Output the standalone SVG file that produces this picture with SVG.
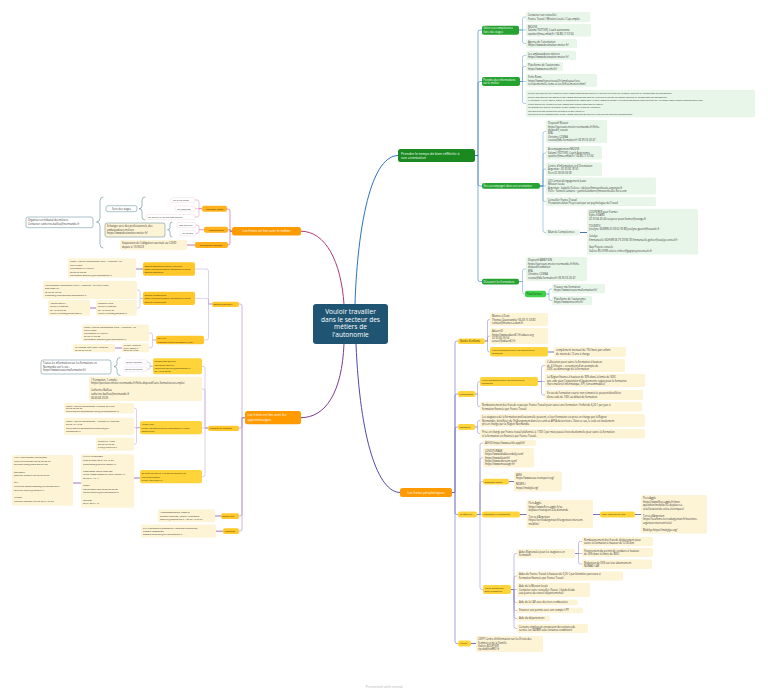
<svg xmlns="http://www.w3.org/2000/svg" width="768" height="693" viewBox="0 0 768 693">
<style>
text{font-family:"Open Sans","Liberation Sans",Arial,sans-serif}
.s{font-size:2.55px;fill:#333}
.s2{font-size:2.4px;fill:#333}
.nd{font-size:2.7px;fill:#3a2e05}
.nd2{font-size:2.4px;fill:#3a2e05}
.nw{font-size:2.7px;fill:#fff}
.mw{font-size:3.3px;fill:#fff}
.pg{fill:#e8f6e9}
.py{fill:#fdf4d6}
.yn{fill:#ffd43a}
.ya{fill:#ffc72a}
.on{fill:#ffb21e}
.om{fill:#ff9b00}
.gc{fill:#25a230}
.bx{fill:#fff;stroke:#437686;stroke-width:.45}
.bxy{fill:#fdf4d6;stroke:#437686;stroke-width:.45}
.lb{fill:#fff;stroke:#efc9da;stroke-width:.35}
.lp{fill:#fff;stroke:#dccbe8;stroke-width:.35}
.c{fill:none;stroke-linecap:round;stroke-linejoin:round}
</style>
<rect width="768" height="693" fill="#fff"/>
<g id="connectors" class="c">
  <path d="M355,304C357,240 368,155.5 398,155.5" stroke="#2a72bc" stroke-width="1"/>
  <path d="M344,304C341,262 326,231.2 301,231.2" stroke="#b23a72" stroke-width="1"/>
  <path d="M344,344C342,392 326,417.7 301,417.7" stroke="#7c3c96" stroke-width="1"/>
  <path d="M356,344C360,440 378,492.5 400,492.5" stroke="#4e4aa8" stroke-width="1"/>
  <g stroke="#2f74bd" stroke-width=".6">
    <path d="M475,155.5H478V32Q478,30 480,30H482"/>
    <path d="M475,155.5H478V83.5Q478,81.5 480,81.5H482"/>
    <path d="M475,155.5H478V184Q478,186 480,186H482"/>
    <path d="M475,155.5H478V279.5Q478,281.5 480,281.5H482"/>
  </g>
  <g stroke="#4f8fd0" stroke-width=".45">
    <path d="M519,30H522.5V19Q522.5,17 524.5,17H526"/>
    <path d="M519,30H526"/>
    <path d="M519,30H522.5V41.5Q522.5,43.5 524.5,43.5H526"/>
    <path d="M520,81.5H522.5V57.5Q522.5,55.5 524.5,55.5H526"/>
    <path d="M520,81.5H522.5V68.5Q522.5,66.5 524.5,66.5H526"/>
    <path d="M520,81.5H526"/>
    <path d="M520,81.5H522.5V101.5Q522.5,103.5 524.5,103.5H526"/>
    <path d="M540,186H543V133.5Q543,131.5 545,131.5H546"/>
    <path d="M540,186H543V155Q543,153 545,153H546"/>
    <path d="M540,186H543V171Q543,169 545,169H546"/>
    <path d="M540,186H546"/>
    <path d="M540,186H543V199.5Q543,201.5 545,201.5H546"/>
    <path d="M540,186H543V230.5Q543,232.5 545,232.5H546"/>
    <path d="M519,281.5H522.5V271Q522.5,269 524.5,269H526"/>
    <path d="M519,281.5H522.5V292Q522.5,294 524.5,294H525"/>
    <path d="M546,294H549V291Q549,289 551,289H552"/>
    <path d="M546,294H549V298.5Q549,300.5 551,300.5H552"/>
  </g>
  <path d="M580,232.5H587" stroke="#23509e" stroke-width=".8"/>
  <g stroke="#6b64c2" stroke-width=".6">
    <path d="M452,492.5H455V343Q455,341 457,341H458"/>
    <path d="M452,492.5H455V396Q455,394 457,394H458"/>
    <path d="M452,492.5H455V429Q455,427 457,427H458"/>
    <path d="M452,492.5H455V512.5Q455,514.5 457,514.5H458"/>
    <path d="M452,492.5H455V641.5Q455,643.5 457,643.5H458"/>
  </g>
  <g stroke="#7a74c8" stroke-width=".45">
    <path d="M485,341H487.5V321.5Q487.5,319.5 489.5,319.5H490"/>
    <path d="M485,341H487.5V338Q487.5,336 489.5,336H490"/>
    <path d="M485,341H487.5V350Q487.5,352 489.5,352H490"/>
    <path d="M475.5,394H477.5V383.5Q477.5,381.5 479.5,381.5H480"/>
    <path d="M475.5,394H477.5V404.7Q477.5,406.7 479.5,406.7H480"/>
    <path d="M538,381.5H541.5V367.5Q541.5,365.5 543.5,365.5H545"/>
    <path d="M538,381.5H545"/>
    <path d="M538,381.5H541.5V393Q541.5,395 543.5,395H545"/>
    <path d="M475,427H477.5V422.5Q477.5,420.5 479.5,420.5H480"/>
    <path d="M475,427H477.5V431.5Q477.5,433.5 479.5,433.5H480"/>
    <path d="M477,514.5H480V445Q480,443 482,443H483"/>
    <path d="M477,514.5H480V459.7Q480,457.7 482,457.7H483"/>
    <path d="M477,514.5H480V483.5Q480,481.5 482,481.5H483"/>
    <path d="M477,514.5H482"/>
    <path d="M477,514.5H480V587.5Q480,589.5 482,589.5H483"/>
    <path d="M511,589.5H514V555.5Q514,553.5 516,553.5H517"/>
    <path d="M511,589.5H514V578Q514,576 516,576H517"/>
    <path d="M511,589.5H517"/>
    <path d="M511,589.5H514V600.5Q514,602.5 516,602.5H517"/>
    <path d="M511,589.5H514V608.5Q514,610.5 516,610.5H517"/>
    <path d="M511,589.5H514V616.5Q514,618.5 516,618.5H517"/>
    <path d="M511,589.5H514V626.5Q514,628.5 516,628.5H517"/>
    <path d="M575,553.5H578.5V543.5Q578.5,541.5 580.5,541.5H582"/>
    <path d="M575,553.5H582"/>
    <path d="M575,553.5H578.5V562Q578.5,564 580.5,564H582"/>
  </g>
  <g stroke="#3f3a9a" stroke-width=".7">
    <path d="M548,352H554"/>
    <path d="M509,481.5H514"/>
    <path d="M520,514.5H526.5"/>
    <path d="M593,514.5H600"/>
    <path d="M635,514.5H641"/>
    <path d="M471,643.5H476"/>
  </g>
  <g stroke="#c4508e" stroke-width=".6">
    <path d="M232,231.2H230V211Q230,209 228,209H227"/>
    <path d="M232,231.2H230V229.7H228"/>
    <path d="M232,231.2H230V243Q230,245 228,245"/>
  </g>
  <g stroke="#d57aac" stroke-width=".45">
    <path d="M202,208.7H199V202Q199,200 197,200H195"/>
    <path d="M202,208.7H195"/>
    <path d="M202,208.7H199V215Q199,217 197,217H195"/>
    <path d="M204,229.7H199V227Q199,225 197,225H196"/>
    <path d="M204,229.7H199V231.3Q199,233.3 197,233.3H196"/>
  </g>
  <path d="M195,245H187" stroke="#b03a72" stroke-width=".7"/>
  <g stroke="#3f7282" stroke-width=".5">
    <path d="M145,197Q142,197 142,200V205.7Q142,208.7 139,208.7Q142,208.7 142,211.7V217Q142,220 145,220"/>
    <path d="M172,222Q170,222 170,224.5V227.2Q170,229.7 167.5,229.7Q170,229.7 170,232.2V234.5Q170,237 172,237"/>
    <path d="M103,197Q100,197 100,201V218Q100,222 96.5,222Q100,222 100,226V244Q100,248 103,248"/>
    <path d="M120,357.5Q117,357.5 117,360.5V363.5Q117,366.5 114,366.5Q117,366.5 117,369.5V372.5Q117,375.5 120,375.5"/>
  </g>
  <g stroke="#a783c8" stroke-width=".6">
    <path d="M245,417.7H242V306Q242,304 240,304H239"/>
    <path d="M245,417.7H242V426Q242,428 240,428H239"/>
    <path d="M245,417.7H242V514Q242,516 240,516H239"/>
    <path d="M245,417.7H242V529Q242,531 240,531H239"/>
  </g>
  <g stroke="#b594d2" stroke-width=".45">
    <path d="M212,304H208.5V271Q208.5,269 206.5,269H195"/>
    <path d="M212,304H208.5V300.4Q208.5,298.4 206.5,298.4H195"/>
    <path d="M212,304H208.5V338Q208.5,340 206.5,340H204"/>
    <path d="M143,298.4H140V292Q140,290 138,290H137"/>
    <path d="M143,298.4H140V306Q140,308 138,308H136.7"/>
    <path d="M156,340H152.5V335Q152.5,333 150.5,333H149"/>
    <path d="M156,340H152.5V345.8Q152.5,347.8 150.5,347.8H149"/>
    <path d="M208,428H205V368.3Q205,366.3 203,366.3H202"/>
    <path d="M208,428H205V391Q205,389 203,389H202"/>
    <path d="M208,428H202"/>
    <path d="M208,428H205V474.7Q205,476.7 203,476.7H202"/>
    <path d="M153,366.3H150V364Q150,362 148,362H147"/>
    <path d="M153,366.3H150V367.3Q150,369.3 148,369.3H147"/>
    <path d="M140,427.7H136.5V410.2Q136.5,408.2 134.5,408.2H134"/>
    <path d="M140,427.7H134"/>
    <path d="M140,427.7H136.5V442.2Q136.5,444.2 134.5,444.2H134"/>
  </g>
  <g stroke="#7a3c96" stroke-width=".7">
    <path d="M143,269H136"/>
    <path d="M96,308H90"/>
    <path d="M122,348H115"/>
    <path d="M140,478H134"/>
    <path d="M81,483H73"/>
    <path d="M221,516H215"/>
    <path d="M223,531.2H216"/>
  </g>
</g>

<g id="n-central">
  <rect x="313" y="304" width="75" height="40" rx="3" fill="#1f5573"/>
  <text font-size="6.6" fill="#fff" text-anchor="middle"><tspan x="350.5" y="314">Vouloir travailler</tspan><tspan x="350.5" y="321.7">dans le secteur des</tspan><tspan x="350.5" y="329.4">métiers de</tspan><tspan x="350.5" y="337.1">l'autonomie</tspan></text>
</g>

<!-- Orientation branch -->
<g id="n-orientation">
  <rect x="398" y="149" width="77" height="13" rx="2.5" fill="#1a8a20"/>
  <text font-size="3.5" fill="#fff"><tspan x="401" y="154.6">Prendre le temps de bien réfléchir à</tspan><tspan x="401" y="159.4">son orientation</tspan></text>
</g>
<g id="n-gerer">
  <rect class="gc" x="482" y="25.7" width="37" height="9" rx="2"/>
  <text class="nw"><tspan x="483.5" y="29.4">Gérer ses compétences</tspan><tspan x="483.5" y="32.9">faire des stages</tspan></text>
</g>
<g id="b-contacter"><rect class="pg" x="526" y="12" width="64" height="10" rx="1.5"/><text class="s"><tspan x="528" y="16.2">Contacter son conseiller</tspan><tspan x="528" dy="3.4">France Travail / Mission Locale / Cap emploi</tspan></text></g>
<g id="b-moove1"><rect class="pg" x="526" y="24" width="65" height="12.5" rx="1.5"/><text class="s"><tspan x="528" y="28.1">MOOVE</tspan><tspan x="528" dy="3.3">Salomé POTTIER, Coach autonomie</tspan><tspan x="528" dy="3.3">spottier@msa.mfad.fr / 06.86.17.57.04</tspan></text></g>
<g id="b-agence"><rect class="pg" x="526" y="39" width="51" height="9" rx="1.5"/><text class="s"><tspan x="528" y="43.1">Agence de l'orientation</tspan><tspan x="528" dy="3.2">https://www.destination-metier.fr/</tspan></text></g>
<g id="n-infos">
  <rect class="gc" x="482" y="77" width="38" height="9" rx="2"/>
  <text class="nw"><tspan x="483.3" y="80.7">Prendre des informations</tspan><tspan x="483.3" y="84.2">sur le métier</tspan></text>
</g>
<g id="b-amb"><rect class="pg" x="526" y="50.7" width="50" height="9.3" rx="1.5"/><text class="s"><tspan x="528" y="54.8">Les ambassadeurs métiers</tspan><tspan x="528" dy="3.3">https://www.destination-metier.fr/</tspan></text></g>
<g id="b-plat1"><rect class="pg" x="526" y="62.3" width="37" height="8.7" rx="1.5"/><text class="s"><tspan x="528" y="66.4">Plateforme de l'autonomie</tspan><tspan x="528" dy="3.2">https://www.mov.info.fr/</tspan></text></g>
<g id="b-fiche"><rect class="pg" x="526" y="74" width="71" height="12.7" rx="1.5"/><text class="s"><tspan x="528" y="78.2">Fiche Rome</tspan><tspan x="528" dy="3.3">https://www.francetravail.fr/employeur/vos-</tspan><tspan x="528" dy="3.3">recrutements/le-rome-et-les-fiches-metiers.html</tspan></text></g>
<g id="b-guides"><rect class="pg" x="526" y="90" width="229" height="27.3" rx="1.5"/><text class="s2"><tspan x="528" y="94.3">Guide des métiers de la santé https://www.destination-metier.fr/article/le-guide-de-la-sante-metiers-et-formations-en-normandie</tspan><tspan x="528" dy="3.45">Guide des métiers du social https://www.destination-metier.fr/article/le-guide-du-social-metiers-et-formations-en-normandie</tspan><tspan x="528" dy="3.45">L' étudiant.fr http: Santé_social et paramédical 2023/2024 https://www.letudiant.fr/etudes/medecine-sante/guide-de-l-etudiant-sante-social-paramedical.html</tspan><tspan x="528" dy="3.45">Fiche métier de la santé https://www.quel-avenir.com/metier-sante/</tspan><tspan x="528" dy="3.45">La maison du métier infirmier https://www.ifsi.fr/metier-infirmier</tspan><tspan x="528" dy="3.45">Les métiers des industries de santé https://imfis.fr/</tspan><tspan x="528" dy="3.45">Les métiers du paramédical https://www.destination-metier.fr/article/les-metiers-paramedical</tspan></text></g>
<g id="n-accomp">
  <rect class="gc" x="482" y="183" width="58" height="5.8" rx="2"/>
  <text class="nw" x="483.6" y="186.9">Être accompagné dans son orientation</text>
</g>
<g id="b-reussir"><rect class="pg" x="546" y="120" width="61" height="23" rx="1.5"/><text class="s"><tspan x="548" y="124.2">Dispositif Réussir</tspan><tspan x="548" dy="3.35">https://parcours-metier.normandie.fr/fiche-</tspan><tspan x="548" dy="3.35">dispositif_reussir</tspan><tspan x="548" dy="3.35">BFA</tspan><tspan x="548" dy="3.35">Christine COSNA</tspan><tspan x="548" dy="3.35">ccosna@bfa-formation.fr 06 95 53 20 47</tspan></text></g>
<g id="b-moove2"><rect class="pg" x="546" y="146" width="56" height="13.5" rx="1.5"/><text class="s"><tspan x="548" y="150.3">Accompagnement MOOVE</tspan><tspan x="548" dy="3.4">Salomé POTTIER, Coach Autonomie</tspan><tspan x="548" dy="3.4">spottier@msa.mfad.fr / 06.86.17.57.04</tspan></text></g>
<g id="b-cio"><rect class="pg" x="546" y="162.5" width="56" height="13.5" rx="1.5"/><text class="s"><tspan x="548" y="166.8">Centre d'Information et d'Orientation</tspan><tspan x="548" dy="3.4">Argentan : 02 33 36 18 50</tspan><tspan x="548" dy="3.4">Flers 02 33 65 03 58</tspan></text></g>
<g id="b-cej"><rect class="pg" x="546" y="177.5" width="110" height="17" rx="1.5"/><text class="s"><tspan x="548" y="181.8">CEJ Contrat d'engagement Jeune</tspan><tspan x="548" dy="3.45">Mission locale</tspan><tspan x="548" dy="3.45">Argentan : Isabelle Delecu : i.delecu@missionlocale-argentan.fr</tspan><tspan x="548" dy="3.45">Flers : Yannick Lamarre : yannick.lamarre@missionlocale-flers.com</tspan></text></g>
<g id="b-ft"><rect class="pg" x="546" y="197" width="110" height="9" rx="1.5"/><text class="s"><tspan x="548" y="201.1">Conseiller France Travail</tspan><tspan x="548" dy="3.3">Prestations bilan Projet suivi par un psychologue du Travail</tspan></text></g>
<g id="n-bilan"><rect class="pg" x="546" y="229.5" width="34" height="6" rx="2"/><text class="s" x="548" y="233.4">Bilan de Compétences</text></g>
<g id="b-bilan"><rect class="pg" x="587" y="209" width="111" height="45.5" rx="1.5"/><text class="s"><tspan x="589" y="212.6">COOPERER pour Former</tspan><tspan x="589" dy="3.55">Sylvie EDARD</tspan><tspan x="589" dy="3.55">02 33 64 45 44 cooperer.pour.former@orange.fr</tspan><tspan x="589" dy="7.1">TOUSSTIC</tspan><tspan x="589" dy="3.55">Jocelyne GUERIN 02 33 62 59 88  jocelyne.guerin@tousstic.fr</tspan><tspan x="589" dy="7.1">Catalys</tspan><tspan x="589" dy="3.55">Emmanuelle GOHIER 06 79 29 96 78 Emmanuelle.gohier@catalys-conseil.fr</tspan><tspan x="589" dy="7.1">Gap Projets conseils</tspan><tspan x="589" dy="3.55">Valérie RICHTER valerie.richter@gapprojetsconseils.fr</tspan></text></g>
<g id="n-decouvrir">
  <rect class="gc" x="482" y="278.8" width="37" height="5.6" rx="2"/>
  <text class="nw" x="483.5" y="282.6">Découvrir les formations</text>
</g>
<g id="b-ambition"><rect class="pg" x="526" y="257" width="61" height="24" rx="1.5"/><text class="s"><tspan x="528" y="261.4">Dispositif AMBITION</tspan><tspan x="528" dy="3.5">https://parcours-metier.normandie.fr/fiche-</tspan><tspan x="528" dy="3.5">dispositif-ambition</tspan><tspan x="528" dy="3.5">BFA</tspan><tspan x="528" dy="3.5">Christine COSNA</tspan><tspan x="528" dy="3.5">ccosna@bfa-formation.fr 06 95 53 20 47</tspan></text></g>
<g id="n-plateformes">
  <rect x="525" y="290.7" width="21" height="6.6" rx="2" fill="#3fd14a"/>
  <text font-size="2.7" fill="#1d3d1d" x="526.6" y="295">Plateformes</text>
</g>
<g id="b-trouver"><rect class="pg" x="552" y="284" width="53" height="9.3" rx="1.5"/><text class="s"><tspan x="554" y="288.1">Trouver ma formation</tspan><tspan x="554" dy="3.3">https://www.trouvermaformation.fr/</tspan></text></g>
<g id="b-plat2"><rect class="pg" x="552" y="296" width="40" height="9" rx="1.5"/><text class="s"><tspan x="554" y="300">Plateforme de l'autonomie</tspan><tspan x="554" dy="3.2">https://www.mov.info.fr/</tspan></text></g>

<!-- Freins périphériques -->
<g id="n-peri">
  <rect class="om" x="400" y="488" width="52" height="9" rx="2.5"/>
  <text class="mw" x="426" y="493.7" text-anchor="middle">Les freins périphériques</text>
</g>
<g id="n-garde"><rect class="yn" x="458" y="338.5" width="27" height="5.5" rx="2"/><text class="nd" x="460" y="342.1">Garde d'enfants</text></g>
<g id="b-momes"><rect class="py" x="490" y="313" width="58" height="13" rx="1.5"/><text class="s"><tspan x="492" y="317.3">Momes à Dom</tspan><tspan x="492" dy="3.4">Thomas Quesnandier 06 49 15 03 83</tspan><tspan x="492" dy="3.4">contact@momes-a-dom.fr</tspan></text></g>
<g id="b-aduen"><rect class="py" x="490" y="328" width="58" height="16" rx="1.5"/><text class="s"><tspan x="492" y="332.2">Aduen 61</tspan><tspan x="492" dy="3.35">https://www.aduen61.fr/aduen-org</tspan><tspan x="492" dy="3.35">02 33 65 05 54</tspan><tspan x="492" dy="3.35">accueil@aduen61.fr</tspan></text></g>
<g id="n-aides1"><rect class="yn" x="490" y="347" width="58" height="9.5" rx="2"/><text class="nd2"><tspan x="491.5" y="350.9">Aides Régionales pour les stagiaires en</tspan><tspan x="491.5" dy="3.4">formation</tspan></text></g>
<g id="b-enfant"><rect class="py" x="554" y="347" width="72" height="10" rx="1.5"/><text class="s"><tspan x="556" y="351.2">complément mensuel de 75€/mois par enfant</tspan><tspan x="556" dy="3.4">de moins de 12 ans à charge</tspan></text></g>
<g id="n-fin"><rect class="yn" x="458" y="391" width="17.5" height="6" rx="2"/><text class="nd2" x="459.2" y="394.9">Financement</text></g>
<g id="n-aides2"><rect class="yn" x="480" y="377" width="58" height="9" rx="2"/><text class="nd2"><tspan x="481.5" y="380.7">Aides Régionales pour les stagiaires en</tspan><tspan x="481.5" dy="3.4">formation</tspan></text></g>
<g id="b-alloc"><rect class="py" x="545" y="359" width="80" height="13" rx="1.5"/><text class="s"><tspan x="547" y="363.2">L'allocation pour suivre la formation à hauteur</tspan><tspan x="547" dy="3.4">de 4 €/heure + versement d'un acompte de</tspan><tspan x="547" dy="3.4">200€ au démarrage de la formation</tspan></text></g>
<g id="b-equip"><rect class="py" x="545" y="374" width="100" height="13" rx="1.5"/><text class="s"><tspan x="547" y="378.2">La Région finance à hauteur de 90% dans la limite de 500€</tspan><tspan x="547" dy="3.4">une aide pour l'acquisition d'équipements requis pour la formation</tspan><tspan x="547" dy="3.4">(hors matériel informatique, EPI, consommables)</tspan></text></g>
<g id="b-courte"><rect class="py" x="545" y="390" width="98" height="10" rx="1.5"/><text class="s"><tspan x="547" y="394.2">En cas de formation courte non rémunérée peuvent bénéficier</tspan><tspan x="547" dy="3.4">d'une aide de 100€ au début de formation.</tspan></text></g>
<g id="b-repas"><rect class="py" x="480" y="402" width="162" height="9.5" rx="1.5"/><text class="s"><tspan x="482" y="406.1">Remboursement des frais de repas par France Travail pour suivre une formation : forfait de 6,20 € par jour si</tspan><tspan x="482" dy="3.4">formation financée par France Travail</tspan></text></g>
<g id="n-logement"><rect class="yn" x="458" y="424" width="17" height="6" rx="2"/><text class="nd2" x="459.5" y="427.9">Logement</text></g>
<g id="b-afpa"><rect class="py" x="480" y="414" width="165" height="13" rx="1.5"/><text class="s"><tspan x="482" y="418.2">Les stagiaires de la formation professionnelle peuvent, si leur formation est prise en charge par la Région</tspan><tspan x="482" dy="3.4">Normandie, bénéficier de l'hébergement dans les centres AFPA du territoire. Dans ce cas, le coût est totalement</tspan><tspan x="482" dy="3.4">pris en charge par la Région Normandie.</tspan></text></g>
<g id="b-ftlog"><rect class="py" x="480" y="429" width="165" height="9.5" rx="1.5"/><text class="s"><tspan x="482" y="433.1">Prise en charge par France travail plafonnée à 1100 € par mois passés hors du domicile pour suivre la formation</tspan><tspan x="482" dy="3.4">si la formation est financée par France Travail.</tspan></text></g>
<g id="n-mobilite"><rect class="yn" x="458" y="511.5" width="19" height="6" rx="2"/><text class="nd2" x="459.7" y="515.4">La mobilité</text></g>
<g id="b-aehle"><rect class="py" x="483" y="440" width="53" height="6" rx="1.5"/><text class="s" x="485" y="444">AEHLE https://www.aehle.appli.fr/</text></g>
<g id="b-covoit"><rect class="py" x="483" y="448" width="51" height="19.5" rx="1.5"/><text class="s"><tspan x="485" y="452">COVOITURAGE</tspan><tspan x="485" dy="3.3">https://www.blablacardaily.com/</tspan><tspan x="485" dy="3.3">https://www.klaxit.fr/</tspan><tspan x="485" dy="3.3">https://www.idvroom.com/</tspan><tspan x="485" dy="3.3">https://www.mouvagir.fr/</tspan></text></g>
<g id="n-tsocial"><rect class="yn" x="483" y="478.7" width="26" height="5.8" rx="2"/><text class="nd2" x="484.5" y="482.5">Transport social</text></g>
<g id="b-tsocial"><rect class="py" x="514" y="471.5" width="48" height="20" rx="1.5"/><text class="s"><tspan x="516" y="475.5">ASSE</tspan><tspan x="516" dy="3.3">https://www.asse-transport.org/</tspan><tspan x="516" dy="6.6">MOBYLI</tspan><tspan x="516" dy="3.3">https://mobyli.org/</tspan></text></g>
<g id="n-tad"><rect class="yn" x="482" y="511.5" width="38" height="6" rx="2"/><text class="nd2" x="483.5" y="515.4">Transport à la demande</text></g>
<g id="b-tad"><rect class="py" x="526.5" y="500" width="66.5" height="28" rx="1.5"/><text class="s"><tspan x="528.5" y="504.2">Flers Agglo</tspan><tspan x="528.5" dy="3.45">https://www.flers-agglo.fr/se-</tspan><tspan x="528.5" dy="3.45">deplacer/transport-a-la-demande</tspan><tspan x="528.5" dy="6.9">Terres d'Argentan</tspan><tspan x="528.5" dy="3.45">https://terresdargentan.fr/argentan-intercom-</tspan><tspan x="528.5" dy="3.45">mobilite/</tspan></text></g>
<g id="n-velo"><rect class="yn" x="600" y="511.5" width="35" height="6" rx="2"/><text class="nd2" x="601.5" y="515.4">Vélo/ location de vélo</text></g>
<g id="b-velo"><rect class="py" x="641" y="495" width="66" height="38.5" rx="1.5"/><text class="s"><tspan x="643" y="499.1">Flers Agglo</tspan><tspan x="643" dy="3.5">https://www.flers-agglo.fr/mon-</tspan><tspan x="643" dy="3.5">quotidien/mobilite/se-deplacer-a-</tspan><tspan x="643" dy="3.5">velo/location-de-velos-electriques/</tspan><tspan x="643" dy="7">Terres d'Argentan</tspan><tspan x="643" dy="3.5">https://tourisme.terresdargentan.fr/tourisme-</tspan><tspan x="643" dy="3.5">argentan-intercom/velo/</tspan><tspan x="643" dy="7">Mobilya https://mobylya.org/</tspan></text></g>
<g id="n-aidesfin"><rect class="yn" x="483" y="585" width="28" height="9" rx="2"/><text class="nd2"><tspan x="484.5" y="588.8">Aides financières</tspan><tspan x="484.5" dy="3.4">pour la mobilité</tspan></text></g>
<g id="b-aidesreg3"><rect class="py" x="517" y="549" width="58" height="9" rx="1.5"/><text class="s"><tspan x="519" y="552.9">Aides Régionales pour les stagiaires en</tspan><tspan x="519" dy="3.3">formation</tspan></text></g>
<g id="b-km"><rect class="py" x="582" y="537" width="71" height="9" rx="1.5"/><text class="s"><tspan x="584" y="540.9">Remboursement des frais de déplacement pour</tspan><tspan x="584" dy="3.3">suivre la formation à hauteur de 0.18€/km</tspan></text></g>
<g id="b-permis"><rect class="py" x="582" y="548" width="71" height="9" rx="1.5"/><text class="s"><tspan x="584" y="551.9">Financement du permis de conduire à hauteur</tspan><tspan x="584" dy="3.3">de 50% dans la limite de 800€</tspan></text></g>
<g id="b-nomad"><rect class="py" x="582" y="559.5" width="70" height="9.5" rx="1.5"/><text class="s"><tspan x="584" y="563.5">Réduction de 50% sur leur abonnement</tspan><tspan x="584" dy="3.3">NOMAD CAR</tspan></text></g>
<g id="b-ftkm"><rect class="py" x="517" y="571.5" width="106" height="9" rx="1.5"/><text class="s"><tspan x="519" y="575.4">Aides de France Travail à hauteur de 0,25 € par kilomètre parcouru si</tspan><tspan x="519" dy="3.3">formation financée par France Travail</tspan></text></g>
<g id="b-ml"><rect class="py" x="517" y="583" width="73" height="14" rx="1.5"/><text class="s"><tspan x="519" y="587.3">Aide de la Mission locale</tspan><tspan x="519" dy="3.4">Contacter votre conseiller (Faeva | fonds d'aide</tspan><tspan x="519" dy="3.4">aux jeunes du conseil départemental)</tspan></text></g>
<g id="b-caf"><rect class="py" x="517" y="599.8" width="61" height="5.5" rx="1.5"/><text class="s" x="519" y="603.4">Aide de la CAF avec des tiers remboursés</text></g>
<g id="b-cpf"><rect class="py" x="517" y="607.8" width="66" height="5.5" rx="1.5"/><text class="s" x="519" y="611.4">Financer son permis avec son compte CPF</text></g>
<g id="b-dep"><rect class="py" x="517" y="615.8" width="33" height="5.5" rx="1.5"/><text class="s" x="519" y="619.4">Aide du département</text></g>
<g id="b-employeurs"><rect class="py" x="517" y="624" width="71" height="9" rx="1.5"/><text class="s"><tspan x="519" y="627.9">Certains employeurs proposent des voitures de</tspan><tspan x="519" dy="3.3">service (ex l'ADMR sous certaines conditions)</tspan></text></g>
<g id="n-autres"><rect class="yn" x="458" y="640.5" width="13" height="6" rx="2"/><text class="nd2" x="459.5" y="644.4">Autres</text></g>
<g id="b-cidff"><rect class="py" x="476" y="636" width="67" height="16" rx="1.5"/><text class="s"><tspan x="478" y="640.2">CIDFF Centre d'information sur les Droits des</tspan><tspan x="478" dy="3.35">Femmes et de la Famille</tspan><tspan x="478" dy="3.35">Valérie BOUFFIER</tspan><tspan x="478" dy="3.35">cip.vbd@cidff61.fr</tspan></text></g>

<!-- Freins métier -->
<g id="n-metier">
  <rect class="om" x="232" y="227" width="69" height="8.5" rx="2.5"/>
  <text class="mw" x="266.5" y="232.4" text-anchor="middle">Les freins en lien avec le métier</text>
</g>
<g id="n-mauvaise"><rect class="on" x="202" y="205.7" width="25" height="6" rx="2"/><text class="nd2" x="214.5" y="209.6" text-anchor="middle">Mauvaise image</text></g>
<g id="t-vieillesse"><rect class="lb" x="171" y="197.5" width="24" height="5" rx="1.5"/><text class="s2" x="173" y="201">de la vieillesse</text></g>
<g id="t-handicap"><rect class="lb" x="175" y="206" width="20" height="5" rx="1.5"/><text class="s2" x="177" y="209.5">du handicap</text></g>
<g id="t-contraintes"><rect class="lb" x="146" y="214.5" width="49" height="5" rx="1.5"/><text class="s2" x="148" y="218">du métier et de ses contraintes</text></g>
<g id="n-stages"><rect class="bx" x="106" y="205.7" width="31" height="6" rx="2"/><text class="s" x="121.5" y="209.6" text-anchor="middle">Faire des stages</text></g>
<g id="n-apprehension"><rect class="on" x="204" y="226.7" width="24" height="6" rx="2"/><text class="nd2" x="216" y="230.6" text-anchor="middle">Appréhension</text></g>
<g id="t-desmetiers"><rect class="lb" x="177" y="222.5" width="19" height="5" rx="1.5"/><text class="s2" x="179" y="226">Des métiers</text></g>
<g id="t-terrain"><rect class="lb" x="180" y="230.8" width="16" height="5" rx="1.5"/><text class="s2" x="182" y="234.3">du terrain</text></g>
<g id="b-echanger"><rect class="bxy" x="105" y="223" width="60" height="14" rx="2"/><text class="s"><tspan x="107" y="227.4">Echanger avec des professionnels, des</tspan><tspan x="107" dy="3.5">ambassadeurs métiers</tspan><tspan x="107" dy="3.5">https://www.destination-metier.fr/</tspan></text></g>
<g id="n-vaccin"><rect class="on" x="195" y="242" width="33" height="6" rx="2"/><text class="nd2" x="211.5" y="245.9" text-anchor="middle">Obligation vaccinale</text></g>
<g id="b-vaccin"><rect class="py" x="120" y="240" width="67" height="10" rx="1.5"/><text class="s"><tspan x="122" y="244.2">Suspension de l'obligation vaccinale au COVID</tspan><tspan x="122" dy="3.4">depuis le 15/05/23</tspan></text></g>
<g id="b-tribunal"><rect class="bx" x="26" y="217" width="67" height="10.7" rx="2"/><text class="s"><tspan x="28" y="221.3">Organiser un tribunal des métiers</tspan><tspan x="28" dy="3.5">Contacter: catherine.baillieu@normandie.fr</tspan></text></g>

<!-- Freins apprentissages -->
<g id="n-app">
  <rect class="om" x="245" y="411" width="56" height="13.3" rx="2.5"/>
  <text class="mw"><tspan x="247.5" y="416.4">Les freins en lien avec les</tspan><tspan x="247.5" y="421.4">apprentissages</tspan></text>
</g>
<g id="n-savgen"><rect class="ya" x="212" y="301.7" width="27" height="5.3" rx="2"/><text class="nd2" x="213.5" y="305.3">Savoirs généraux</text></g>
<g id="n-essentiels"><rect class="ya" x="143" y="262.3" width="52" height="13.4" rx="2"/><text class="nd2" style="font-size:2.3px"><tspan x="144.5" y="266.5">Savoirs Essentiels (lecture, écriture)</tspan><tspan x="144.5" dy="3.4">https://parcours-metier.normandie.fr/fiche-</tspan><tspan x="144.5" dy="3.4">Savoirs-Essentiels</tspan></text></g>
<g id="b-greta1"><rect class="py" x="68" y="258.3" width="68" height="19.4" rx="1.5"/><text class="s2"><tspan x="70" y="262.3">GRETA Portes Normandes Flers / Argentan / La</tspan><tspan x="70" dy="3.4">Ferté Macé</tspan><tspan x="70" dy="3.4">Christophe MAUDUIT</tspan><tspan x="70" dy="3.4">02 33 65 20 88</tspan><tspan x="70" dy="3.4">christophe.mauduit@ac-normandie.fr</tspan></text></g>
<g id="n-numeriques"><rect class="ya" x="143" y="291.7" width="52" height="13.3" rx="2"/><text class="nd2" style="font-size:2.3px"><tspan x="144.5" y="295.9">Savoirs Numériques</tspan><tspan x="144.5" dy="3.4">https://parcours-metier.normandie.fr/fiche-</tspan><tspan x="144.5" dy="3.4">Savoirs-Numeriques</tspan></text></g>
<g id="b-illec"><rect class="py" x="43" y="281" width="94" height="18" rx="1.5"/><text class="s2"><tspan x="45" y="285.5">Illectronisme Normandie Flers / Argentan / La Ferté Macé</tspan><tspan x="45" dy="3.5">Elsa GOBAIN</tspan><tspan x="45" dy="3.5">06 09 56 98 63</tspan><tspan x="45" dy="3.5">e.gobain@illectronisme-normandie.fr</tspan></text></g>
<g id="b-helio"><rect class="py" x="48" y="300" width="42" height="15.7" rx="1.5"/><text class="s2"><tspan x="50" y="304.1">HÉLIO/FORMA</tspan><tspan x="50" dy="3.3">Thierry RITOUSS</tspan><tspan x="50" dy="3.3">06 12 63 02 85</tspan><tspan x="50" dy="3.3">thierry.ritouss@heliofirma.fr</tspan></text></g>
<g id="b-garance"><rect class="py" x="96" y="300" width="40.7" height="15.7" rx="1.5"/><text class="s2"><tspan x="98" y="304.1">Garance Flers</tspan><tspan x="98" dy="3.3">Thierry RITOUSS</tspan><tspan x="98" dy="3.3">06 12 63 06 87</tspan><tspan x="98" dy="3.3">thierry.ritouss@garance.fr</tspan></text></g>
<g id="n-saitlire"><rect class="ya" x="156" y="335.7" width="48" height="8.6" rx="2"/><text class="nd2"><tspan x="157.5" y="339.3">Sait lire</tspan><tspan x="157.5" dy="3.3">Français Langue Etrangère (FLE)</tspan></text></g>
<g id="b-greta2"><rect class="py" x="82" y="324.5" width="67" height="17" rx="1.5"/><text class="s2"><tspan x="84" y="328.1">GRETA Portes Normandes Flers / Argentan / La</tspan><tspan x="84" dy="2.95">Ferté Macé</tspan><tspan x="84" dy="2.95">Christophe MAUDUIT</tspan><tspan x="84" dy="2.95">06 07 64 09 00</tspan><tspan x="84" dy="2.95">christophe.mauduit@ac-normandie.fr</tspan></text></g>
<g id="b-infrep"><rect class="py" x="122" y="343.3" width="27" height="9" rx="1.5"/><text class="s2" style="font-size:2.2px"><tspan x="123.5" y="346.2">INFREP Argentan</tspan><tspan x="123.5" dy="2.55">Jenny BOREAU</tspan><tspan x="123.5" dy="2.55">06.87.68.43.00</tspan></text></g>
<g id="b-maison"><rect class="py" x="73" y="344" width="42" height="8.3" rx="1.5"/><text class="s2"><tspan x="75" y="347.6">La Maison des Mots Argentan</tspan><tspan x="75" dy="2.9">06 35 09 77 68</tspan></text></g>
<g id="n-manque"><rect class="ya" x="208" y="425.7" width="31" height="5.3" rx="2"/><text class="nd2" x="209.5" y="429.3">Manque de diplôme</text></g>
<g id="n-fq"><rect class="yn" x="153" y="358.3" width="49" height="16" rx="2"/><text class="nd2"><tspan x="154.5" y="362.2">Formations Qualifs</tspan><tspan x="154.5" dy="3.3">Catherine Baillieu</tspan><tspan x="154.5" dy="3.3">catherine.baillieu@normandie.fr</tspan><tspan x="154.5" dy="3.3">06.43.63.20.05</tspan></text></g>
<g id="t-qcoll"><rect class="lp" x="125" y="359.8" width="22" height="4.4" rx="1.5"/><text class="s2" style="font-size:2.3px" x="126.2" y="362.9">Qualif Collectif</text></g>
<g id="t-qind"><rect class="lp" x="124" y="367" width="23" height="4.4" rx="1.5"/><text class="s2" style="font-size:2.3px" x="125.2" y="370.1">Qualif Individuel</text></g>
<g id="b-toutes"><rect class="bx" x="41" y="360" width="70" height="14" rx="2"/><text class="s"><tspan x="43" y="364.4">Toutes les informations sur les formations en</tspan><tspan x="43" dy="3.5">Normandie sur le site :</tspan><tspan x="43" dy="3.5">https://www.trouvermaformation.fr/</tspan></text></g>
<g id="b-1form"><rect class="py" x="89" y="376.7" width="113" height="24.3" rx="1.5"/><text class="s"><tspan x="91" y="380.8">1 Formation, 1 emploi</tspan><tspan x="91" dy="3.55">https://parcours-metier.normandie.fr/fiche-dispositif-une-formation-un-emploi</tspan><tspan x="91" dy="7.1">Catherine Baillieu</tspan><tspan x="91" dy="3.55">catherine.baillieu@normandie.fr</tspan><tspan x="91" dy="3.55">06.43.63.20.05</tspan></text></g>
<g id="n-actioncles"><rect class="yn" x="140" y="421" width="62" height="13.3" rx="2"/><text class="nd2"><tspan x="141.5" y="425.2">Action Clés</tspan><tspan x="141.5" dy="3.4">https://parcours-metier.normandie.fr/fiche-</tspan><tspan x="141.5" dy="3.4">savoirs-cles</tspan></text></g>
<g id="b-gretaflers"><rect class="py" x="64" y="403" width="70" height="10.5" rx="1.5"/><text class="s2"><tspan x="66" y="406.5">GRETA Portes Normandes Antenne de Flers</tspan><tspan x="66" dy="2.9">02 33 98 88 50</tspan><tspan x="66" dy="2.9">greta.portes-normandes.flers@ac-normandie.fr</tspan></text></g>
<g id="b-gretaarg"><rect class="py" x="64" y="417.7" width="70" height="17.3" rx="1.5"/><text class="s2"><tspan x="66" y="421.7">GRETA Portes Normandes - Antenne d'Argentan</tspan><tspan x="66" dy="3.4">02 33 12 12 60</tspan><tspan x="66" dy="3.4">greta.portes-normandes.argentan@ac-</tspan><tspan x="66" dy="3.4">normandie.fr</tspan></text></g>
<g id="b-trajectio"><rect class="py" x="96" y="437.7" width="38" height="13" rx="1.5"/><text class="s2"><tspan x="98" y="441.8">Trajectio - Flers</tspan><tspan x="98" dy="3.3">02 33 62 78 80</tspan><tspan x="98" dy="3.3">s.lhd@trajectio.fr</tspan></text></g>
<g id="n-sequal"><rect class="yn" x="140" y="470" width="62" height="13.3" rx="2"/><text class="nd2"><tspan x="141.5" y="474.2">Se qualifier par la VAE collectivement ou</tspan><tspan x="141.5" dy="3.4">individuellement</tspan><tspan x="141.5" dy="3.4">https://vae.gouv.fr/</tspan></text></g>
<g id="b-catalys"><rect class="py" x="81" y="454.3" width="53" height="53.4" rx="1.5"/><text class="s2"><tspan x="83" y="457.3">CATALYS CONSEIL</tspan><tspan x="83" dy="3.6">Lena SIMON 02 31 53 15 02</tspan><tspan x="83" dy="3.6">lena.simon@catalys-conseil.fr</tspan><tspan x="83" dy="7.2">COOPERER POUR FORMER</tspan><tspan x="83" dy="3.6">https://www.cooperer-pour-former.fr/</tspan><tspan x="83" dy="3.6">02 33 64 45 44</tspan><tspan x="83" dy="7.2">GRETA</tspan><tspan x="83" dy="3.6">Carine BOUVIER 02 33 98 88 50</tspan><tspan x="83" dy="3.6">carine.bouvier@ac-normandie.fr</tspan><tspan x="83" dy="7.2">LETUDE</tspan><tspan x="83" dy="3.6">02 31 08 84 45</tspan></text></g>
<g id="b-afpa2"><rect class="py" x="12" y="455" width="61" height="50.7" rx="1.5"/><text class="s2"><tspan x="14" y="457.9">AFPA Marie EDOUARD OUEST</tspan><tspan x="14" dy="3.65">Marc GUILLEMOT 02 33 20 20 50</tspan><tspan x="14" dy="3.65">antenne.ema@afpa-walter.org</tspan><tspan x="14" dy="7.3">TOUSSTIC</tspan><tspan x="14" dy="3.65">Jocelyne GUERIN 02 33 62 59 88</tspan><tspan x="14" dy="7.3">BFA</tspan><tspan x="14" dy="3.65">Christine Cosna ccosna@bfa-formation.fr</tspan><tspan x="14" dy="3.65">jocelyne.guerin@tousstic.fr</tspan><tspan x="14" dy="7.3">INFREP</tspan><tspan x="14" dy="3.65">Nathalie TOUSSAINT 02 33 51 65 50</tspan></text></g>
<g id="n-savetre"><rect class="ya" x="221" y="513.3" width="18" height="5.7" rx="2"/><text class="nd2" x="222.3" y="517.1">Savoir-être</text></g>
<g id="b-savetre"><rect class="py" x="158" y="509.3" width="57" height="13" rx="1.5"/><text class="s2"><tspan x="160" y="513.4">Accompagnement MOOVE</tspan><tspan x="160" dy="3.3">Salomé POTTIER, Coach Autonomie</tspan><tspan x="160" dy="3.3">spottier@msa.mfad.fr / 06.86.17.57.04</tspan></text></g>
<g id="n-handicap"><rect class="ya" x="223" y="528.3" width="16" height="5.7" rx="2"/><text class="nd2" x="224.5" y="532.1">Handicap</text></g>
<g id="b-handicap"><rect class="py" x="141" y="524.5" width="75" height="13.2" rx="1.5"/><text class="s2"><tspan x="143" y="528.6">RHF Normandie (Ressource Handicap Formation)</tspan><tspan x="143" dy="3.3">Pascale LEBRETON</tspan><tspan x="143" dy="3.3">pascale.lebreton@rhf-normandie.fr</tspan></text></g>

<text x="384" y="688" font-size="3.6" fill="#b8b8b8" text-anchor="middle">Presented with xmind</text>
</svg>
